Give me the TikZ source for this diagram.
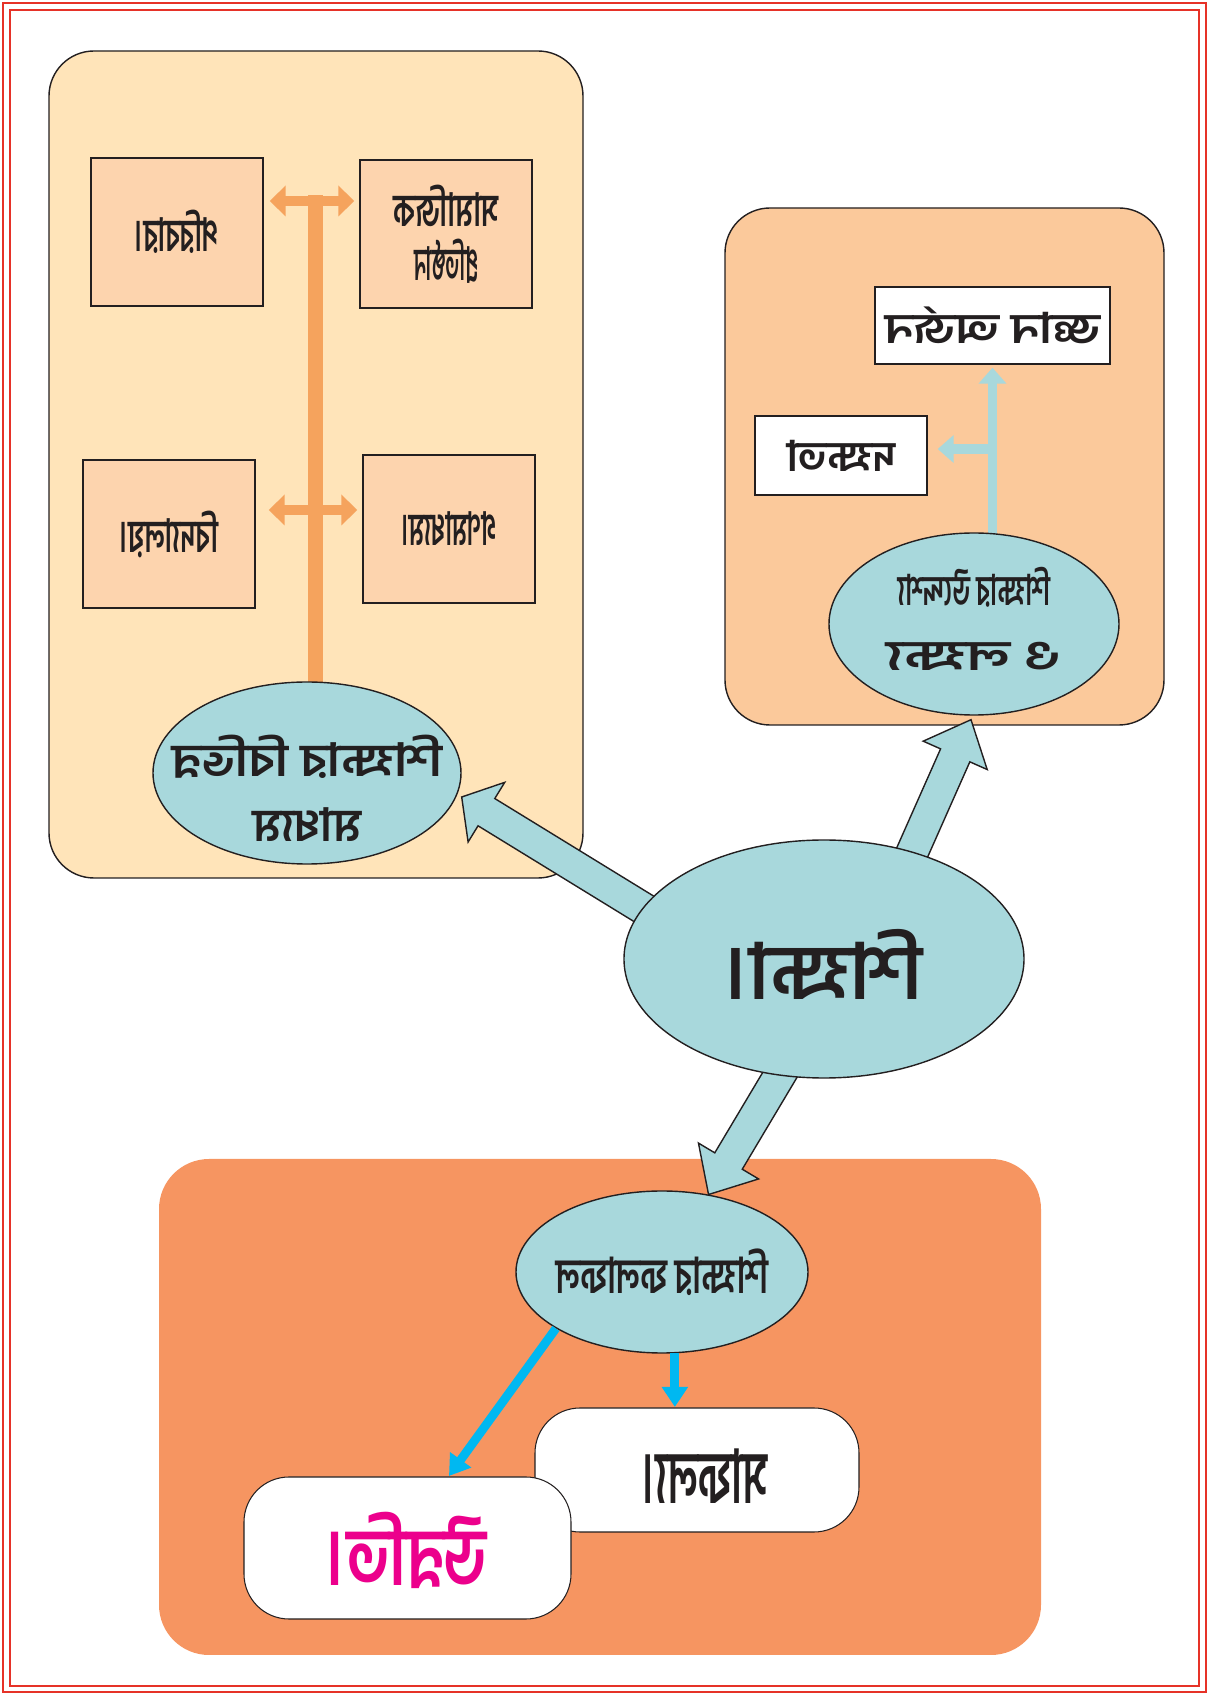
\documentclass[tikz,border=0pt]{standalone}
\usepackage{graphicx}
\usepackage{fontspec}
\newfontfamily\bnfont[Script=Bengali]{Hind Siliguri}
\usetikzlibrary{calc,arrows.meta,shapes.geometric}

\definecolor{framered}{RGB}{230,50,40}
\definecolor{paleyellow}{RGB}{255,228,185}
\definecolor{peach}{RGB}{253,212,174}
\definecolor{barorange}{RGB}{245,163,93}
\definecolor{paleteal}{RGB}{168,216,220}
\definecolor{lightorange}{RGB}{251,201,155}
\definecolor{deeporange}{RGB}{246,149,97}
\definecolor{skyblue}{RGB}{0,184,241}
\definecolor{hotpink}{RGB}{236,0,140}
\definecolor{ink}{RGB}{35,31,32}

% mirrored label of a given width
\newcommand{\bn}[2]{\reflectbox{\resizebox{#1}{\height}{\bnfont\bfseries #2}}}
% block arrow: tail, tip, head length
\newcommand{\bigarrow}[3]{%
  \coordinate (ah) at ($(#2)!#3!(#1)$);
  \draw[bigarrow] ($(#1)!0.16cm!90:(#2)$) -- ($(ah)!0.16cm!-90:(#1)$)
    -- ($(ah)!0.35cm!-90:(#1)$) -- (#2) -- ($(ah)!0.35cm!90:(#1)$)
    -- ($(ah)!0.16cm!90:(#1)$) -- ($(#1)!0.16cm!-90:(#2)$) -- cycle;}

\tikzset{
  region/.style={rounded corners=0.45cm},
  peachbox/.style={draw=ink, fill=peach, line width=0.4pt, minimum width=1.72cm, minimum height=1.48cm, inner sep=0pt, text=ink, font=\fontsize{13}{15.4}\selectfont, align=center},
  whitebox/.style={draw=ink, fill=white, line width=0.4pt, inner sep=0pt, text=ink, font=\fontsize{12}{14}\selectfont},
  oval/.style={ellipse, draw=ink, fill=paleteal, line width=0.4pt, inner sep=0pt},
  ovaltext/.style={text=ink, align=center, inner sep=0pt},
  bigarrow/.style={draw=ink, fill=paleteal, line width=0.4pt, line join=miter},
  orangebar/.style={draw=barorange, line width=4.3pt},
  orangearrow/.style={draw=barorange, line width=3pt, {Triangle[width=0.3cm,length=0.16cm]}-{Triangle[width=0.3cm,length=0.16cm]}},
  tealarrow/.style={draw=paleteal, line width=2.7pt, -{Triangle[width=0.27cm,length=0.16cm]}},
  bluearrow/.style={draw=skyblue, line width=2.5pt, -{Triangle[width=0.25cm,length=0.2cm]}},
  result/.style={draw=ink, fill=white, line width=0.3pt, rounded corners=0.45cm}
}

\begin{document}
\begin{tikzpicture}
\useasboundingbox (0,0) rectangle (12.09,16.96);
% frame
\draw[framered, line width=0.7pt] (0.03,0.04) rectangle (12.06,16.93);
\draw[framered, line width=0.7pt] (0.10,0.10) rectangle (11.99,16.86);

% regions
\draw[region, draw=ink, fill=paleyellow, line width=0.4pt] (0.49,8.18) rectangle (5.83,16.45);
\draw[region, draw=ink, fill=lightorange, line width=0.4pt] (7.25,9.71) rectangle (11.64,14.88);
\fill[region, deeporange, rounded corners=0.5cm] (1.59,0.41) rectangle (10.41,5.37);

% left group
\node[peachbox] (home) at (1.77,14.64) {\bn{0.84cm}{পরিবার।}};
\node[peachbox] (society) at (4.46,14.62) {\bn{1.05cm}{সামাজিক}\\\bn{0.64cm}{প্রতিষ্ঠান}};
\node[peachbox] (school) at (1.69,11.62) {\bn{0.98cm}{বিদ্যালয়।}};
\node[peachbox] (media) at (4.49,11.67) {\bn{0.95cm}{গণমাধ্যম।}};
\coordinate (upper) at (3.155,14.95);
\coordinate (lower) at (3.155,11.86);
\draw[orangebar] (upper |- 0,9.3) -- ([yshift=0.06cm]upper);
\draw[orangearrow] ([xshift=0.06cm]home.east |- upper) -- ([xshift=-0.05cm]society.west |- upper);
\draw[orangearrow] ([xshift=0.13cm]school.east |- lower) -- ([xshift=-0.05cm]media.west |- lower);
\node[oval, minimum width=3.08cm, minimum height=1.82cm] (means) at (3.07,9.23) {};
\node[ovaltext, font=\fontsize{13}{18.5}\selectfont] (means-text) at ([yshift=-0.15cm]means.center)
  {\bn{2.7cm}{শিক্ষার বিভিন্ন}\\\bn{1.08cm}{মাধ্যম}};

% right group
\node[whitebox, minimum width=2.35cm, minimum height=0.77cm] (gain) at (9.925,13.705) {\bn{2.15cm}{জ্ঞান অর্জন}};
\node[whitebox, minimum width=1.72cm, minimum height=0.79cm] (skill) at (8.41,12.405) {\bn{1.08cm}{দক্ষতা}};
\coordinate (fork) at (9.925,12.47);
\draw[tealarrow] (gain.south |- 0,10.9) -- ([yshift=-0.03cm]gain.south);
\draw[tealarrow] (fork) -- ([xshift=0.1cm]skill.east |- fork);
\node[oval, minimum width=2.9cm, minimum height=1.82cm] (aims) at (9.74,10.72) {};
\node[ovaltext, font=\fontsize{12}{18.5}\selectfont] (aims-text) at ([yshift=0.05cm]aims.center)
  {\bn{1.52cm}{শিক্ষার উদ্দেশ্য}\\\bn{1.75cm}{ও লক্ষ্য}};

% bottom group
\node[oval, minimum width=2.92cm, minimum height=1.62cm] (effect) at (6.62,4.24) {};
\node[ovaltext, font=\fontsize{14}{17}\selectfont] (effect-text) at (effect.center) {\bn{2.12cm}{শিক্ষার ফলাফল}};
\draw[result] (5.35,1.64) rectangle (8.59,2.88);
\node[text=ink, font=\fontsize{21}{24}\selectfont] (success) at (7.05,2.2) {\bn{1.24cm}{সাফল্য।}};
\draw[result] (2.44,0.77) rectangle (5.71,2.19);
\node[text=hotpink, font=\fontsize{23}{26}\selectfont] (progress) at (4.07,1.46) {\bn{1.6cm}{উন্নতি।}};
\draw[bluearrow] (effect.208) -- ([xshift=0.42cm,yshift=0.01cm]progress.north |- 0,2.19);
\draw[bluearrow] (effect.279) -- (effect.279 |- 0,2.89);

% centre
\coordinate (mc) at (8.24,7.37);
\coordinate (tail1) at (7.5,7.22);
\coordinate (tail2) at (8.84,7.8);
\coordinate (tail3) at (8.15,6.8);
\coordinate (tip1) at ($(means.east)+(0,-0.24)$);
\coordinate (tip2) at ($(aims.south)+(-0.03,-0.04)$);
\bigarrow{tail1}{tip1}{0.29cm}
\bigarrow{tail2}{tip2}{0.39cm}
\bigarrow{tail3}{effect.59}{0.39cm}
\node[oval, minimum width=4.0cm, minimum height=2.38cm] (main) at (mc) {};
\node[ovaltext, font=\fontsize{22}{26}\selectfont] (main-text) at ([yshift=-0.05cm]main.center) {\bn{1.96cm}{শিক্ষা।}};
\end{tikzpicture}
\end{document}
